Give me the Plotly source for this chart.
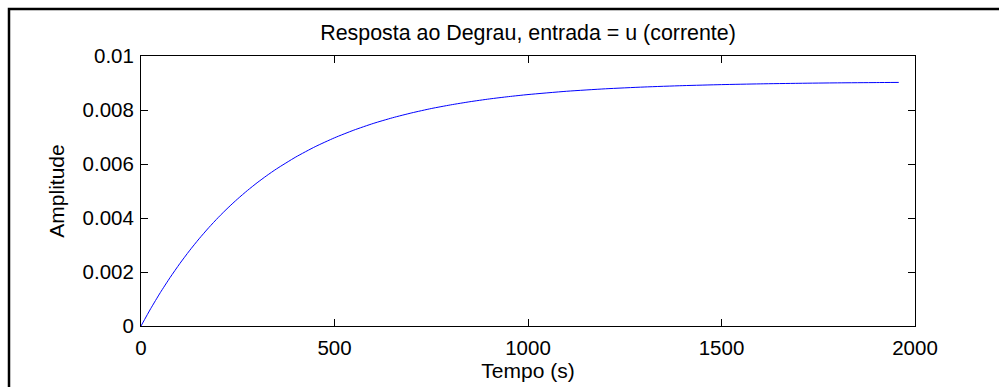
import plotly.graph_objects as go

# Step response samples: time (s) and amplitude
tempo = [0, 25, 50, 75, 100, 125, 150, 175, 200, 225, 250, 275, 300, 325, 350,
         400, 450, 500, 550, 600, 650, 700, 750, 800, 850, 900, 950, 1000,
         1100, 1200, 1300, 1400, 1500, 1600, 1700, 1800, 1900, 1958]
amplitude = [0.0, 0.000642, 0.001238, 0.001791, 0.002306, 0.002784, 0.003228,
             0.003641, 0.004025, 0.004381, 0.004711, 0.005019, 0.005305,
             0.005570, 0.005817, 0.006259, 0.006641, 0.006970, 0.007254,
             0.007501, 0.007713, 0.007895, 0.008054, 0.008189, 0.008307,
             0.008409, 0.008496, 0.008572, 0.008694, 0.008785, 0.008852,
             0.008902, 0.008940, 0.008968, 0.008989, 0.009005, 0.009016,
             0.009022]

x_ticks = [0, 500, 1000, 1500, 2000]
x_tick_text = ["0", "500", "1000", "1500", "2000"]
y_ticks = [0, 0.002, 0.004, 0.006, 0.008, 0.01]
y_tick_text = ["0", "0.002", "0.004", "0.006", "0.008", "0.01"]

W, H = 999, 387
L, R, T, B = 141, 84, 56, 61
FONT = "Liberation Sans, Arial, sans-serif"
TICK_SIZE = 20.5
LABEL_SIZE = 21

fig = go.Figure()
fig.add_trace(go.Scatter(
    x=tempo, y=amplitude, mode="lines",
    line=dict(color="#0000ff", width=1, shape="spline", smoothing=0.6),
    showlegend=False, hoverinfo="skip",
))

axis_common = dict(
    showline=True, linecolor="black", linewidth=1, mirror="ticks",
    ticks="inside", ticklen=7, tickcolor="black", tickwidth=1,
    showgrid=False, zeroline=False, automargin=False,
    tickfont=dict(family=FONT, size=TICK_SIZE, color="black"),
)

fig.update_xaxes(range=[0, 2000], tickvals=x_ticks, ticktext=x_tick_text,
                 ticklabelstandoff=3,
                 title=dict(text="Tempo (s)", standoff=5,
                            font=dict(family=FONT, size=LABEL_SIZE, color="black")),
                 **axis_common)
fig.update_yaxes(range=[0, 0.01], tickvals=y_ticks, ticktext=y_tick_text,
                 ticklabelstandoff=2,
                 title=dict(text="Amplitude", standoff=12,
                            font=dict(family=FONT, size=LABEL_SIZE, color="black")),
                 **axis_common)

# Outer figure frame
pw, ph = W - L - R, H - T - B
def px_to_paper_x(px):
    return (px - L) / pw
def py_to_paper_y(py):
    return (H - B - py) / ph

fig.add_shape(type="rect", xref="paper", yref="paper",
              x0=px_to_paper_x(9), x1=px_to_paper_x(1100),
              y0=py_to_paper_y(500), y1=py_to_paper_y(9),
              line=dict(color="black", width=2.5), fillcolor="rgba(0,0,0,0)",
              layer="above")

fig.update_layout(
    width=W, height=H, autosize=False,
    margin=dict(l=L, r=R, t=T, b=B, pad=0),
    paper_bgcolor="white", plot_bgcolor="white",
    title=dict(text="Resposta ao Degrau, entrada = u (corrente)",
               x=(L + pw / 2) / W, xanchor="center",
               y=1 - 33 / H, yanchor="middle",
               font=dict(family=FONT, size=21.4, color="black")),
)

fig.write_html("out.html")
